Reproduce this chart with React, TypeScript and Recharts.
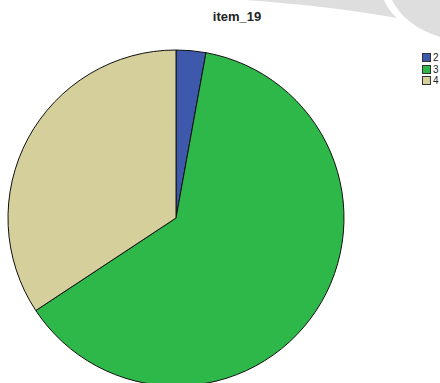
import React from 'react';
import { PieChart, Pie, Cell, Legend } from 'recharts';

const categories = ['2', '3', '4'];
const counts = [1, 22, 12];
const colors = ['#3e58ac', '#2fb84a', '#d5cf9b'];

const pieData = categories.map((name, i) => ({ name, value: counts[i] }));

const LegendBox: React.FC<any> = ({ payload }) => (
  <div style={{ fontFamily: 'Liberation Sans, Arial, sans-serif', fontSize: 10, color: '#222' }}>
    {(payload || []).map((entry: any) => (
      <div key={entry.value} style={{ display: 'flex', alignItems: 'center', height: 11.5 }}>
        <span
          style={{
            display: 'inline-block',
            width: 7,
            height: 7,
            background: entry.color,
            border: '1px solid #333',
            marginRight: 2,
          }}
        />
        <span>{entry.value}</span>
      </div>
    ))}
  </div>
);

const App: React.FC = () => {
  return (
    <div style={{ position: 'absolute', left: 0, top: 0, width: 440, height: 383, background: '#fff', overflow: 'hidden' }}>
      {/* faint watermark in the top-right corner */}
      <svg width={440} height={383} style={{ position: 'absolute', left: 0, top: 0 }}>
        <path d="M 245 0 L 384 0 Q 388 10 397 18 Q 330 6 245 0 Z" fill="#dedede" />
        <path d="M 392 0 Q 405 26 440 37 L 440 0 Z" fill="#dedede" />
      </svg>
      <div
        style={{
          position: 'absolute',
          top: 9,
          left: 0,
          width: 474,
          textAlign: 'center',
          fontFamily: 'Liberation Sans, Arial, sans-serif',
          fontWeight: 'bold',
          fontSize: 13,
          color: '#222',
        }}
      >
        item_19
      </div>
      <div style={{ position: 'absolute', left: 0, top: 0 }}>
        <PieChart width={440} height={383} margin={{ top: 0, right: 0, bottom: 0, left: 0 }}>
          <Pie
            data={pieData}
            dataKey="value"
            nameKey="name"
            cx={176}
            cy={218}
            outerRadius={168}
            startAngle={90}
            endAngle={-270}
            stroke="#111"
            strokeWidth={1}
            isAnimationActive={false}
          >
            {pieData.map((d, i) => (
              <Cell key={d.name} fill={colors[i]} />
            ))}
          </Pie>
          <Legend
            content={<LegendBox />}
            layout="vertical"
            verticalAlign="top"
            align="right"
            wrapperStyle={{ top: 52, left: 422, width: 20 }}
          />
        </PieChart>
      </div>
    </div>
  );
};

export default App;
